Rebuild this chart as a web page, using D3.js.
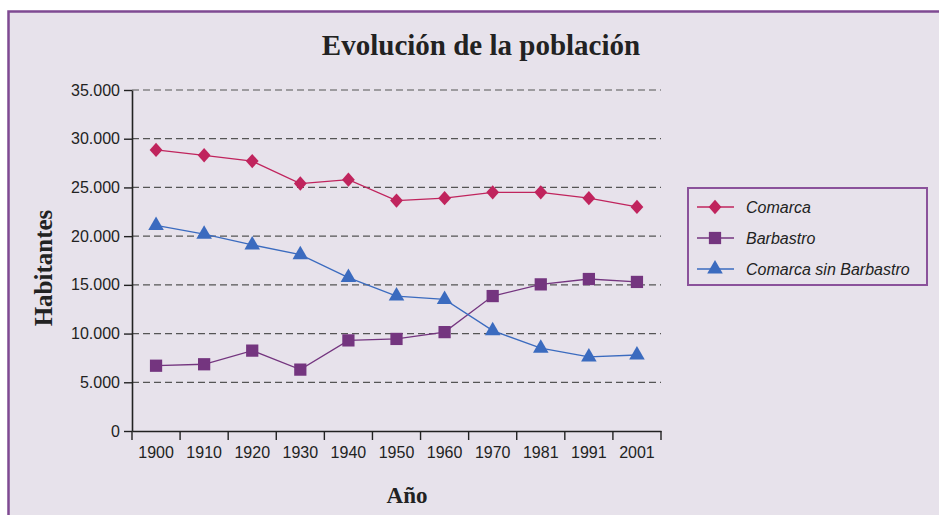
<!DOCTYPE html>
<html lang="es">
<head>
<meta charset="utf-8">
<title>Evolución de la población</title>
<script src="https://cdn.jsdelivr.net/npm/d3@7"></script>
<style>
  body { margin: 0; background: #fff; }
  svg { display: block; }
</style>
</head>
<body>
<script>
// data
const years = ["1900", "1910", "1920", "1930", "1940", "1950", "1960", "1970", "1981", "1991", "2001"];
const comarca = [28850, 28300, 27700, 25400, 25800, 23650, 23900, 24500, 24500, 23900, 23000];
const barbastro = [6700, 6850, 8250, 6300, 9300, 9450, 10150, 13850, 15050, 15600, 15300];
const sinBarbastro = [21100, 20200, 19100, 18100, 15750, 13850, 13500, 10300, 8500, 7600, 7800];
const yTicks = [0, 5000, 10000, 15000, 20000, 25000, 30000, 35000];

const W = 939, H = 515;
const svg = d3.select("body").append("svg").attr("width", W).attr("height", H);

// panel
svg.append("rect").attr("x", 8.5).attr("y", 11.5).attr("width", W).attr("height", H)
  .attr("fill", "#e7e2eb").attr("stroke", "#7f4a92").attr("stroke-width", 2.5);

const x = d3.scaleBand().domain(years).range([132, 661]);
const y = d3.scaleLinear().domain([0, 35000]).range([431, 90]);
const fmt = d => d === 0 ? "0" : d3.format(",")(d).replace(/,/g, ".");

// grid
svg.append("g").selectAll("line").data(yTicks.filter(d => d > 0)).join("line")
  .attr("x1", 132).attr("x2", 661)
  .attr("y1", d => y(d)).attr("y2", d => y(d))
  .attr("stroke", "#555").attr("stroke-width", 1.2).attr("stroke-dasharray", "7,4");

// y axis
const gy = svg.append("g").attr("transform", "translate(132,0)")
  .call(d3.axisLeft(y).tickValues(yTicks).tickFormat(fmt).tickSize(8).tickPadding(4).tickSizeOuter(0));
gy.select(".domain").attr("stroke", "#222").attr("stroke-width", 1.6);
gy.selectAll(".tick line").attr("stroke", "#222").attr("stroke-width", 1.4);
gy.selectAll("text").attr("font-family", "Liberation Sans, Arial, sans-serif").attr("font-size", 16).attr("fill", "#222");

// x axis (labels at centres, ticks at band edges)
const gx = svg.append("g").attr("transform", "translate(0,431)")
  .call(d3.axisBottom(x).tickSize(0).tickPadding(16).tickSizeOuter(0));
gx.select(".domain").attr("stroke", "#222").attr("stroke-width", 1.6);
gx.selectAll("text").attr("font-family", "Liberation Sans, Arial, sans-serif").attr("font-size", 16).attr("fill", "#222");
const edges = years.map(d => x(d)).concat([x.range()[1]]);
gx.selectAll(".edge").data(edges).join("line").attr("class", "edge")
  .attr("x1", d => d).attr("x2", d => d).attr("y1", 0).attr("y2", 9)
  .attr("stroke", "#222").attr("stroke-width", 1.4);

// series
const series = [
  { name: "Comarca", values: comarca, color: "#c0245d", symbol: d3.symbolSquare, size: 82, rot: "rotate(45) scale(1,1)", stretch: "scale(1,1.12)" },
  { name: "Barbastro", values: barbastro, color: "#74357f", symbol: d3.symbolSquare, size: 150, rot: "", stretch: "" },
  { name: "Comarca sin Barbastro", values: sinBarbastro, color: "#3b6bbf", symbol: d3.symbolTriangle, size: 105, rot: "", stretch: "" }
];
const cx = i => x(years[i]) + x.bandwidth() / 2;
const line = d3.line().x((d, i) => cx(i)).y(d => y(d));

series.forEach(s => {
  svg.append("path").datum(s.values).attr("d", line)
    .attr("fill", "none").attr("stroke", s.color).attr("stroke-width", 1.3);
  svg.append("g").selectAll("path").data(s.values).join("path")
    .attr("transform", (d, i) => `translate(${cx(i)},${y(d)}) ${s.stretch} ${s.rot}`)
    .attr("d", d3.symbol(s.symbol, s.size))
    .attr("fill", s.color);
});

// titles
svg.append("text").attr("x", 481).attr("y", 55).attr("text-anchor", "middle")
  .attr("font-family", "Liberation Serif, Times New Roman, serif").attr("font-weight", "bold")
  .attr("font-size", 29).attr("fill", "#222").text("Evolución de la población");
svg.append("text").attr("transform", "translate(52,268) rotate(-90)").attr("text-anchor", "middle")
  .attr("font-family", "Liberation Serif, Times New Roman, serif").attr("font-weight", "bold")
  .attr("font-size", 25).attr("fill", "#222").text("Habitantes");
svg.append("text").attr("x", 407).attr("y", 503).attr("text-anchor", "middle")
  .attr("font-family", "Liberation Serif, Times New Roman, serif").attr("font-weight", "bold")
  .attr("font-size", 23).attr("fill", "#222").text("Año");

// legend
const lg = svg.append("g");
lg.append("rect").attr("x", 688).attr("y", 188).attr("width", 239).attr("height", 97)
  .attr("fill", "none").attr("stroke", "#8b529b").attr("stroke-width", 2);
series.forEach((s, i) => {
  const ly = 207 + i * 31;
  lg.append("line").attr("x1", 697).attr("x2", 734).attr("y1", ly).attr("y2", ly)
    .attr("stroke", s.color).attr("stroke-width", 1.3);
  lg.append("path").attr("transform", `translate(715,${ly}) ${s.stretch} ${s.rot}`)
    .attr("d", d3.symbol(s.symbol, s.size)).attr("fill", s.color);
  lg.append("text").attr("x", 746).attr("y", ly + 6)
    .attr("font-family", "Liberation Sans, Arial, sans-serif").attr("font-style", "italic")
    .attr("font-size", 16).attr("fill", "#222").text(s.name);
});
</script>
</body>
</html>
